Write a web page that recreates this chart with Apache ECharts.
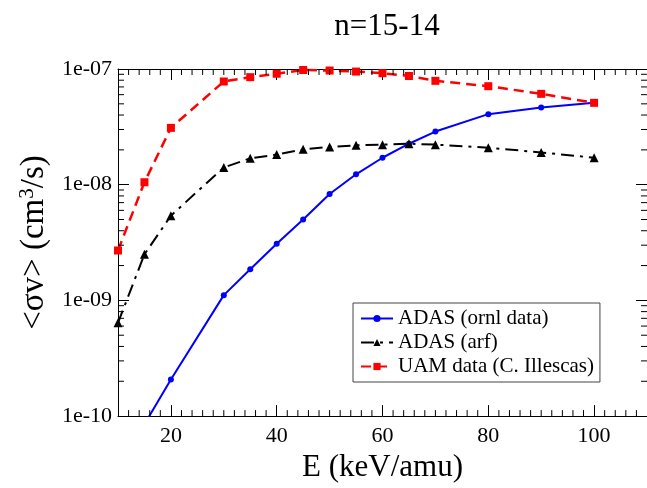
<!DOCTYPE html>
<html>
<head>
<meta charset="utf-8">
<script src="https://cdn.jsdelivr.net/npm/echarts@6/dist/echarts.min.js"></script>
<style>
  html, body { margin: 0; padding: 0; background: #fff; }
  #chart { width: 647px; height: 488px; }
</style>
</head>
<body>
<div id="chart"></div>
<script>
// Rate coefficients <σv> (cm^3/s) versus collision energy E (keV/amu), n=15 -> 14
const ornlEnergy = [15, 20, 30, 35, 40, 45, 50, 55, 60, 65, 70, 80, 90, 100];
const ornlRate = [8.5e-11, 2.07e-10, 1.11e-9, 1.86e-9, 3.09e-9, 5.0e-9, 8.3e-9, 1.23e-8, 1.71e-8, 2.26e-8, 2.88e-8, 4.07e-8, 4.64e-8, 5.1e-8];

const arfEnergy = [10, 15, 20, 30, 35, 40, 45, 50, 55, 60, 65, 70, 80, 90, 100];
const arfRate = [6.4e-10, 2.5e-9, 5.4e-9, 1.41e-8, 1.69e-8, 1.82e-8, 2.02e-8, 2.12e-8, 2.19e-8, 2.22e-8, 2.26e-8, 2.22e-8, 2.09e-8, 1.90e-8, 1.71e-8];

const uamEnergy = [10, 15, 20, 30, 35, 40, 45, 50, 55, 60, 65, 70, 80, 90, 100];
const uamRate = [2.7e-9, 1.05e-8, 3.1e-8, 7.8e-8, 8.5e-8, 9.1e-8, 9.8e-8, 9.7e-8, 9.5e-8, 9.2e-8, 8.7e-8, 7.9e-8, 7.1e-8, 6.1e-8, 5.1e-8];

const seriesNames = ['ADAS (ornl data)', 'ADAS (arf)', 'UAM data (C. Illescas)'];

// Axis ranges and tick labels
const energyRange = [10, 110];
const rateRange = [1e-10, 1e-7];
const rateTickLabels = { '-10': '1e-10', '-9': '1e-09', '-8': '1e-08', '-7': '1e-07' };
// Minor ticks on the energy axis (every 2 keV/amu between the major ticks)
const energyMinorTicks = [
  12, 14, 16, 18, 22, 24, 26, 28, 30, 32, 34, 36, 38,
  42, 44, 46, 48, 50, 52, 54, 56, 58, 62, 64, 66, 68, 70, 72, 74, 76, 78,
  82, 84, 86, 88, 90, 92, 94, 96, 98, 102, 104, 106, 108
];
// Logarithmic minor ticks (2..9 within each decade)
const rateMinorTicks = [
  2e-10, 3e-10, 4e-10, 5e-10, 6e-10, 7e-10, 8e-10, 9e-10,
  2e-9, 3e-9, 4e-9, 5e-9, 6e-9, 7e-9, 8e-9, 9e-9,
  2e-8, 3e-8, 4e-8, 5e-8, 6e-8, 7e-8, 8e-8, 9e-8
];

const FONT = '"Liberation Serif", "Times New Roman", serif';
const MINOR_LEN = 6;

function pairs(xs, ys) { return xs.map((x, i) => [x, ys[i]]); }

function tickLine(x1, y1, x2, y2) {
  return { type: 'line', shape: { x1, y1, x2, y2 }, style: { stroke: '#000', lineWidth: 1 } };
}

const chart = echarts.init(document.getElementById('chart'), null, { renderer: 'canvas' });

const majorX = {
  type: 'value', min: energyRange[0], max: energyRange[1], splitNumber: 5,
  axisLine: { show: true, lineStyle: { color: '#000', width: 1 } },
  axisTick: { show: true, inside: true, length: 11, lineStyle: { color: '#000' } },
  splitLine: { show: false }
};

const logY = {
  type: 'log', min: rateRange[0], max: rateRange[1], logBase: 10,
  axisLine: { show: true, lineStyle: { color: '#000', width: 1 } },
  axisTick: { show: true, inside: true, length: 11, lineStyle: { color: '#000' } },
  splitLine: { show: false }
};

chart.setOption({
  backgroundColor: '#fff',
  animation: false,
  title: {
    text: 'n=15-14',
    left: 382, top: 6, textAlign: 'center',
    textStyle: { fontFamily: FONT, fontSize: 31, fontWeight: 'normal', color: '#000' }
  },
  grid: { left: 118, top: 69, right: -1, bottom: 66, containLabel: false },
  legend: {
    data: seriesNames,
    orient: 'vertical',
    left: 353, top: 303,
    backgroundColor: '#fff',
    borderColor: '#444', borderWidth: 1, borderRadius: 0,
    padding: [5, 6, 5, 7],
    itemWidth: 32, itemHeight: 9, itemGap: 3,
    textStyle: { fontFamily: FONT, fontSize: 21, color: '#000', lineHeight: 21 }
  },
  xAxis: [
    Object.assign({}, majorX, {
      position: 'bottom',
      name: 'E (keV/amu)', nameLocation: 'middle', nameGap: 29,
      nameTextStyle: { fontFamily: FONT, fontSize: 31, color: '#000' },
      axisLabel: {
        show: true, showMinLabel: false, showMaxLabel: false, margin: 9,
        fontFamily: FONT, fontSize: 22, color: '#000'
      }
    }),
    Object.assign({}, majorX, { position: 'top', axisLabel: { show: false } })
  ],
  yAxis: [
    Object.assign({}, logY, {
      position: 'left',
      name: '<σv> (cm{sup|3}/s)', nameLocation: 'middle', nameGap: 64, nameRotate: 90,
      nameTextStyle: {
        fontFamily: FONT, fontSize: 33, color: '#000',
        rich: { sup: { fontFamily: FONT, fontSize: 21, color: '#000', padding: [0, 0, 15, 0] } }
      },
      axisLabel: {
        show: true, margin: 6, fontFamily: FONT, fontSize: 22, color: '#000',
        formatter: v => rateTickLabels[String(Math.round(Math.log10(v)))] || ''
      }
    }),
    Object.assign({}, logY, { position: 'right', axisLabel: { show: false } })
  ],
  series: [
    {
      name: seriesNames[0], type: 'line', xAxisIndex: 0, yAxisIndex: 0,
      data: pairs(ornlEnergy, ornlRate),
      clip: true,
      symbol: 'circle', symbolSize: 6,
      itemStyle: { color: '#0000ff' },
      lineStyle: { color: '#0000ff', width: 2, type: 'solid' },
      z: 3
    },
    {
      name: seriesNames[1], type: 'line', xAxisIndex: 0, yAxisIndex: 0,
      data: pairs(arfEnergy, arfRate),
      clip: true,
      symbol: 'triangle', symbolSize: 9,
      itemStyle: { color: '#000' },
      lineStyle: { color: '#000', width: 2, type: [13, 6, 3, 6] },
      z: 3
    },
    {
      name: seriesNames[2], type: 'line', xAxisIndex: 0, yAxisIndex: 0,
      data: pairs(uamEnergy, uamRate),
      clip: true,
      symbol: 'rect', symbolSize: 8,
      itemStyle: { color: '#ff0000' },
      lineStyle: { color: '#ff0000', width: 2.5, type: [10, 6] },
      z: 4
    },
    {
      // minor ticks on the left and right log axes
      name: 'rateMinorTicks', type: 'custom', xAxisIndex: 0, yAxisIndex: 0,
      data: rateMinorTicks.map(v => [energyRange[0], v]),
      encode: { x: 0, y: 1 },
      silent: true, clip: false, z: 5,
      renderItem: (params, api) => {
        const v = api.value(1);
        const a = api.coord([energyRange[0], v]);
        const b = api.coord([energyRange[1], v]);
        return {
          type: 'group',
          children: [
            tickLine(a[0], a[1], a[0] + MINOR_LEN, a[1]),
            tickLine(b[0], b[1], b[0] - MINOR_LEN, b[1])
          ]
        };
      }
    },
    {
      // minor ticks on the bottom and top energy axes
      name: 'energyMinorTicks', type: 'custom', xAxisIndex: 0, yAxisIndex: 0,
      data: energyMinorTicks.map(e => [e, rateRange[0]]),
      encode: { x: 0, y: 1 },
      silent: true, clip: false, z: 5,
      renderItem: (params, api) => {
        const e = api.value(0);
        const a = api.coord([e, rateRange[0]]);
        const b = api.coord([e, rateRange[1]]);
        return {
          type: 'group',
          children: [
            tickLine(a[0], a[1], a[0], a[1] - MINOR_LEN),
            tickLine(b[0], b[1], b[0], b[1] + MINOR_LEN)
          ]
        };
      }
    }
  ]
});
</script>
</body>
</html>
